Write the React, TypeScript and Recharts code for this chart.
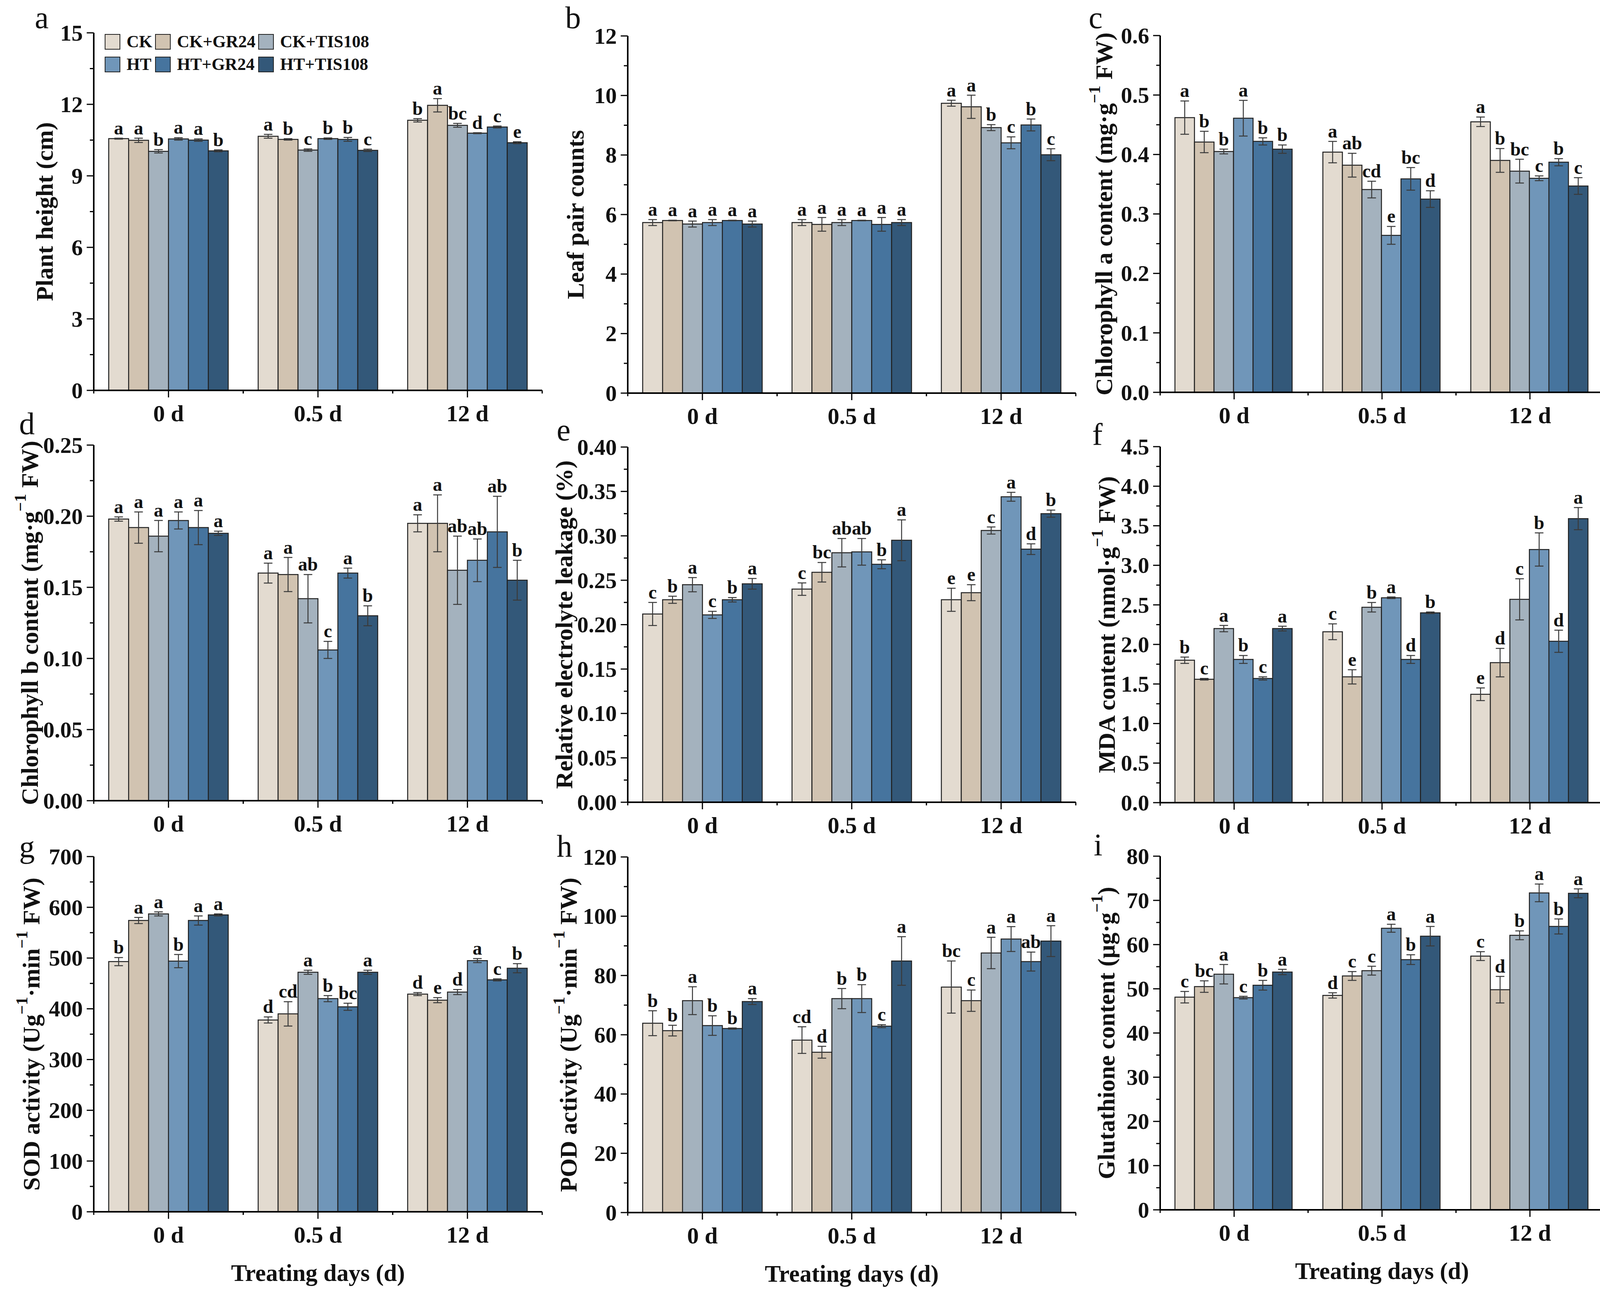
import React from "react";
import { BarChart, Bar, XAxis, YAxis, ErrorBar, LabelList, Legend } from "recharts";

const FONT = '"Liberation Serif", "Times New Roman", serif';

const categories = ["0 d", "0.5 d", "12 d"];
const groups = ["CK", "CK+GR24", "CK+TIS108", "HT", "HT+GR24", "HT+TIS108"];
const groupColors = ["#e3dbd0", "#d1c3b1", "#a4b2be", "#7096b9", "#46749e", "#335879"];

// a — plant height (rows: 0 d, 0.5 d, 12 d; columns follow groups)
const plantHeight = [
  [10.56, 10.49, 10.03, 10.55, 10.5, 10.05],
  [10.66, 10.53, 10.08, 10.56, 10.53, 10.07],
  [11.33, 11.96, 11.12, 10.79, 11.05, 10.39],
];
const plantHeightErr = [
  [0.02, 0.09, 0.07, 0.05, 0.05, 0.04],
  [0.08, 0.03, 0.05, 0.03, 0.08, 0.05],
  [0.07, 0.28, 0.08, 0.02, 0.04, 0.04],
];
const plantHeightSig = [
  ["a", "a", "b", "a", "a", "b"],
  ["a", "b", "c", "b", "b", "c"],
  ["b", "a", "bc", "d", "c", "e"],
];
const plantHeightTicks = [0, 3, 6, 9, 12, 15];

// b — leaf pair counts
const leafPairs = [
  [5.73, 5.8, 5.68, 5.73, 5.8, 5.68],
  [5.73, 5.67, 5.73, 5.8, 5.67, 5.73],
  [9.74, 9.62, 8.92, 8.41, 9.01, 8.01],
];
const leafPairsErr = [
  [0.1, 0.01, 0.1, 0.1, 0.01, 0.1],
  [0.1, 0.23, 0.1, 0.01, 0.23, 0.1],
  [0.1, 0.39, 0.1, 0.2, 0.2, 0.2],
];
const leafPairsSig = [
  ["a", "a", "a", "a", "a", "a"],
  ["a", "a", "a", "a", "a", "a"],
  ["a", "a", "b", "c", "b", "c"],
];
const leafPairsTicks = [0, 2, 4, 6, 8, 10, 12];

// c — chlorophyll a
const chlA = [
  [0.462, 0.421, 0.405, 0.461, 0.422, 0.409],
  [0.404, 0.382, 0.341, 0.264, 0.359, 0.325],
  [0.455, 0.39, 0.372, 0.36, 0.387, 0.347],
];
const chlAErr = [
  [0.028, 0.018, 0.004, 0.03, 0.006, 0.007],
  [0.018, 0.02, 0.014, 0.015, 0.019, 0.014],
  [0.008, 0.02, 0.02, 0.004, 0.006, 0.014],
];
const chlASig = [
  ["a", "b", "b", "a", "b", "b"],
  ["a", "ab", "cd", "e", "bc", "d"],
  ["a", "b", "bc", "c", "b", "c"],
];
const chlATicks = [0, 0.1, 0.2, 0.3, 0.4, 0.5, 0.6];

// d — chlorophyll b
const chlB = [
  [0.198, 0.192, 0.186, 0.197, 0.192, 0.188],
  [0.16, 0.159, 0.142, 0.106, 0.16, 0.13],
  [0.195, 0.195, 0.162, 0.169, 0.189, 0.155],
];
const chlBErr = [
  [0.0015, 0.011, 0.011, 0.006, 0.012, 0.0015],
  [0.007, 0.012, 0.017, 0.006, 0.0035, 0.007],
  [0.006, 0.02, 0.024, 0.015, 0.025, 0.014],
];
const chlBSig = [
  ["a", "a", "a", "a", "a", "a"],
  ["a", "a", "ab", "c", "a", "b"],
  ["a", "a", "ab", "ab", "ab", "b"],
];
const chlBTicks = [0, 0.05, 0.1, 0.15, 0.2, 0.25];

// e — relative electrolyte leakage
const leakage = [
  [0.212, 0.228, 0.245, 0.211, 0.228, 0.246],
  [0.24, 0.259, 0.281, 0.282, 0.268, 0.295],
  [0.228, 0.236, 0.306, 0.344, 0.285, 0.325],
];
const leakageErr = [
  [0.013, 0.004, 0.008, 0.004, 0.0025, 0.006],
  [0.007, 0.011, 0.016, 0.015, 0.005, 0.023],
  [0.013, 0.009, 0.004, 0.005, 0.006, 0.004],
];
const leakageSig = [
  ["c", "b", "a", "c", "b", "a"],
  ["c", "bc", "ab", "ab", "b", "a"],
  ["e", "e", "c", "a", "d", "b"],
];
const leakageTicks = [0, 0.05, 0.1, 0.15, 0.2, 0.25, 0.3, 0.35, 0.4];

// f — MDA
const mda = [
  [1.8, 1.56, 2.2, 1.81, 1.57, 2.2],
  [2.16, 1.59, 2.47, 2.59, 1.81, 2.4],
  [1.37, 1.77, 2.57, 3.2, 2.04, 3.59],
];
const mdaErr = [
  [0.04, 0.01, 0.04, 0.05, 0.02, 0.03],
  [0.1, 0.09, 0.06, 0.01, 0.05, 0.01],
  [0.08, 0.18, 0.26, 0.21, 0.14, 0.14],
];
const mdaSig = [
  ["b", "c", "a", "b", "c", "a"],
  ["c", "e", "b", "a", "d", "b"],
  ["e", "d", "c", "b", "d", "a"],
];
const mdaTicks = [0, 0.5, 1, 1.5, 2, 2.5, 3, 3.5, 4, 4.5];

// g — SOD
const sod = [
  [493, 574, 587, 494, 574, 585],
  [378, 390, 472, 420, 404, 472],
  [429, 417, 433, 495, 457, 480],
];
const sodErr = [
  [8, 6, 4, 13, 9, 2],
  [6, 24, 4, 6, 7, 4],
  [3, 5, 5, 4, 2, 9],
];
const sodSig = [
  ["b", "a", "a", "b", "a", "a"],
  ["d", "cd", "a", "b", "bc", "a"],
  ["d", "e", "d", "a", "c", "b"],
];
const sodTicks = [0, 100, 200, 300, 400, 500, 600, 700];

// h — POD
const pod = [
  [63.9, 61.4, 71.5, 63.1, 62.1, 71.2],
  [58.2, 54.1, 72.2, 72.2, 62.9, 84.9],
  [76.1, 71.5, 87.6, 92.3, 84.7, 91.6],
];
const podErr = [
  [4.2, 1.8, 4.7, 3.3, 0.2, 1.0],
  [4.5, 2.0, 3.4, 4.7, 0.5, 8.2],
  [8.8, 3.6, 5.3, 4.2, 3.2, 5.2],
];
const podSig = [
  ["b", "b", "a", "b", "b", "a"],
  ["cd", "d", "b", "b", "c", "a"],
  ["bc", "c", "a", "a", "ab", "a"],
];
const podTicks = [0, 20, 40, 60, 80, 100, 120];

// i — glutathione
const gsh = [
  [48.1, 50.5, 53.3, 48.0, 50.8, 53.8],
  [48.5, 52.9, 54.1, 63.7, 56.6, 61.9],
  [57.4, 49.8, 62.1, 71.7, 64.1, 71.6],
];
const gshErr = [
  [1.3, 1.3, 2.2, 0.3, 1.1, 0.6],
  [0.6, 1.0, 1.0, 0.9, 1.1, 2.2],
  [1.0, 3.0, 1.0, 2.0, 1.7, 1.0],
];
const gshSig = [
  ["c", "bc", "a", "c", "b", "a"],
  ["d", "c", "c", "a", "b", "a"],
  ["c", "d", "b", "a", "b", "a"],
];
const gshTicks = [0, 10, 20, 30, 40, 50, 60, 70, 80];

const SUP = "\u22121";

const panels = [
  {
    id: "a", vals: plantHeight, errs: plantHeightErr, sigs: plantHeightSig, ticks: plantHeightTicks, dec: 0,
    title: [{ t: "Plant height (cm)" }],
    chart: { left: 0, top: 0, width: 1420, height: 1120 }, plot: { x0: 240, x1: 1388, y0: 84, y1: 999 },
    titleX: 114, letter: { x: 89, y: 72 }, legend: true,
  },
  {
    id: "b", vals: leafPairs, errs: leafPairsErr, sigs: leafPairsSig, ticks: leafPairsTicks, dec: 0,
    title: [{ t: "Leaf pair counts" }],
    chart: { left: 1390, top: 0, width: 1400, height: 1120 }, plot: { x0: 1607, x1: 2754, y0: 92, y1: 1006 },
    titleX: 1473, letter: { x: 1447, y: 72 },
  },
  {
    id: "c", vals: chlA, errs: chlAErr, sigs: chlASig, ticks: chlATicks, dec: 1,
    title: [{ t: "Chlorophyll a content (mg\u00b7g" }, { t: SUP, sup: true }, { t: " FW)" }],
    chart: { left: 2760, top: 0, width: 1374, height: 1120 }, plot: { x0: 2970, x1: 4106, y0: 91, y1: 1004 },
    titleX: 2826, letter: { x: 2787, y: 72 },
  },
  {
    id: "d", vals: chlB, errs: chlBErr, sigs: chlBSig, ticks: chlBTicks, dec: 2,
    title: [{ t: "Chlorophyll b content (mg\u00b7g" }, { t: SUP, sup: true }, { t: " FW)" }],
    chart: { left: 0, top: 1100, width: 1420, height: 1080 }, plot: { x0: 240, x1: 1388, y0: 1139, y1: 2049 },
    titleX: 76, letter: { x: 49, y: 1111 },
  },
  {
    id: "e", vals: leakage, errs: leakageErr, sigs: leakageSig, ticks: leakageTicks, dec: 2,
    title: [{ t: "Relative electrolyte leakage (%)" }],
    chart: { left: 1390, top: 1100, width: 1400, height: 1080 }, plot: { x0: 1607, x1: 2754, y0: 1144, y1: 2053 },
    titleX: 1444, letter: { x: 1425, y: 1127 },
  },
  {
    id: "f", vals: mda, errs: mdaErr, sigs: mdaSig, ticks: mdaTicks, dec: 1,
    title: [{ t: "MDA content (nmol\u00b7g" }, { t: SUP, sup: true }, { t: " FW)" }],
    chart: { left: 2760, top: 1100, width: 1374, height: 1080 }, plot: { x0: 2970, x1: 4106, y0: 1143, y1: 2054 },
    titleX: 2833, letter: { x: 2796, y: 1139 },
  },
  {
    id: "g", vals: sod, errs: sodErr, sigs: sodSig, ticks: sodTicks, dec: 0,
    title: [{ t: "SOD activity (Ug" }, { t: SUP, sup: true }, { t: "\u00b7min" }, { t: SUP, sup: true }, { t: " FW)" }],
    chart: { left: 0, top: 2160, width: 1420, height: 1177 }, plot: { x0: 240, x1: 1388, y0: 2192, y1: 3101 },
    titleX: 80, letter: { x: 49, y: 2194 }, xTitle: true,
  },
  {
    id: "h", vals: pod, errs: podErr, sigs: podSig, ticks: podTicks, dec: 0,
    title: [{ t: "POD activity (Ug" }, { t: SUP, sup: true }, { t: "\u00b7min" }, { t: SUP, sup: true }, { t: " FW)" }],
    chart: { left: 1390, top: 2160, width: 1400, height: 1177 }, plot: { x0: 1607, x1: 2754, y0: 2193, y1: 3103 },
    titleX: 1455, letter: { x: 1425, y: 2192 }, xTitle: true,
  },
  {
    id: "i", vals: gsh, errs: gshErr, sigs: gshSig, ticks: gshTicks, dec: 0,
    title: [{ t: "Glutathione content (\u03bcg\u00b7g" }, { t: SUP, sup: true }, { t: ")" }],
    chart: { left: 2760, top: 2160, width: 1374, height: 1177 }, plot: { x0: 2970, x1: 4106, y0: 2191, y1: 3096 },
    titleX: 2832, letter: { x: 2800, y: 2189 }, xTitle: true,
  },
];

function renderLegend(props: any) {
  const payload = props.payload || [];
  return (
    <div
      style={{
        display: "grid",
        gridTemplateColumns: "129px 264px auto",
        rowGap: 18,
        fontFamily: FONT,
        fontWeight: "bold",
        fontSize: 44,
        color: "#111",
      }}
    >
      {payload.map((entry: any) => (
        <div key={entry.value} style={{ display: "flex", alignItems: "center", height: 40 }}>
          <span
            style={{
              display: "inline-block",
              width: 36,
              height: 36,
              background: entry.color,
              border: "2.5px solid #222",
              marginRight: 16,
            }}
          />
          <span style={{ lineHeight: "40px", whiteSpace: "nowrap" }}>{entry.value}</span>
        </div>
      ))}
    </div>
  );
}

function Panel({ p }: { p: any }) {
  const { left, top, width, height } = p.chart;
  const px0 = p.plot.x0 - left;
  const px1 = p.plot.x1 - left;
  const py0 = p.plot.y0 - top;
  const py1 = p.plot.y1 - top;
  const xH = p.xTitle ? 200 : 100;
  const margin = { top: py0, left: 0, right: width - px1, bottom: height - py1 - xH };
  const band = (px1 - px0) / categories.length;

  const rows = categories.map((cat, ci) => {
    const row: any = { cat };
    groups.forEach((g, gi) => {
      row["v" + gi] = p.vals[ci][gi];
      row["e" + gi] = p.errs[ci][gi];
      row["s" + gi] = p.sigs[ci][gi];
    });
    return row;
  });

  const major: number[] = p.ticks;
  const step = major[1] - major[0];
  const allTicks: number[] = [];
  major.forEach((t, i) => {
    allTicks.push(t);
    if (i < major.length - 1) allTicks.push(+(t + step / 2).toFixed(6));
  });
  const isMajor = (v: number) => Math.abs(v / step - Math.round(v / step)) < 1e-6;

  const yTick = (props: any) => {
    const v = props.payload.value;
    const y = props.y;
    const maj = isMajor(v);
    return (
      <g>
        <line x1={px0 - (maj ? 18 : 10)} x2={px0} y1={y} y2={y} stroke="#000" strokeWidth={3} />
        {maj && (
          <text x={px0 - 28} y={y} dy="0.34em" textAnchor="end" fontFamily={FONT} fontWeight="bold" fontSize={58} fill="#111">
            {v.toFixed(p.dec)}
          </text>
        )}
      </g>
    );
  };

  const xTick = (props: any) => {
    const x = props.x;
    return (
      <g>
        <line x1={x} x2={x} y1={py1} y2={py1 + 18} stroke="#000" strokeWidth={3} />
        <line x1={x - band / 2} x2={x - band / 2} y1={py1} y2={py1 + 8} stroke="#000" strokeWidth={3} />
        <line x1={x + band / 2} x2={x + band / 2} y1={py1} y2={py1 + 8} stroke="#000" strokeWidth={3} />
        <text x={x} y={py1 + 79} textAnchor="middle" fontFamily={FONT} fontWeight="bold" fontSize={60} fill="#111">
          {props.payload.value}
        </text>
      </g>
    );
  };

  const yTitle = () => {
    const cx = p.titleX - left;
    const cy = (py0 + py1) / 2;
    return (
      <text
        transform={`translate(${cx},${cy}) rotate(-90)`}
        textAnchor="middle"
        dominantBaseline="central"
        fontFamily={FONT}
        fontWeight="bold"
        fontSize={62}
        fill="#111"
      >
        {p.title.map((s: any, i: number) => {
          if (s.sup) {
            return (
              <tspan key={i} dy={-24} fontSize={42}>
                {s.t}
              </tspan>
            );
          }
          const prevSup = i > 0 && p.title[i - 1].sup;
          return (
            <tspan key={i} dy={prevSup ? 24 : 0}>
              {s.t}
            </tspan>
          );
        })}
      </text>
    );
  };

  const xTitle = () => (
    <text x={(px0 + px1) / 2} y={py1 + 177} textAnchor="middle" fontFamily={FONT} fontWeight="bold" fontSize={61} fill="#111">
      Treating days (d)
    </text>
  );

  const sigLabel = (gi: number) => (props: any) => {
    const vb = props.viewBox && props.viewBox.height !== undefined ? props.viewBox : props;
    const idx = props.index;
    if (idx === undefined || !rows[idx]) return null;
    const v = rows[idx]["v" + gi];
    const e = rows[idx]["e" + gi];
    const pxPerUnit = vb.height / v;
    const topY = vb.y - e * pxPerUnit;
    return (
      <text
        x={vb.x + vb.width / 2}
        y={topY - 10}
        textAnchor="middle"
        fontFamily={FONT}
        fontWeight="bold"
        fontSize={48}
        fill="#111"
      >
        {props.value}
      </text>
    );
  };

  return (
    <div style={{ position: "absolute", left, top }}>
      <BarChart width={width} height={height} data={rows} margin={margin} barCategoryGap="10%" barGap={0}>
        <XAxis
          dataKey="cat"
          height={xH}
          interval={0}
          tickLine={false}
          axisLine={{ stroke: "#000", strokeWidth: 4 }}
          tick={xTick}
          label={p.xTitle ? xTitle : undefined}
        />
        <YAxis
          type="number"
          width={px0}
          domain={[0, major[major.length - 1]]}
          ticks={allTicks}
          interval={0}
          tickLine={false}
          axisLine={{ stroke: "#000", strokeWidth: 4 }}
          tick={yTick}
          label={yTitle}
        />
        {groups.map((g, gi) => (
          <Bar
            key={g}
            dataKey={"v" + gi}
            name={g}
            fill={groupColors[gi]}
            stroke="#222"
            strokeWidth={2.5}
            isAnimationActive={false}
          >
            <ErrorBar dataKey={"e" + gi} width={11} strokeWidth={2.5} stroke="#3a3a3a" direction="y" />
            <LabelList dataKey={"s" + gi} content={sigLabel(gi)} />
          </Bar>
        ))}
        {p.legend && (
          <Legend
            verticalAlign="middle"
            align="center"
            layout="horizontal"
            content={renderLegend}
            wrapperStyle={{ left: 268, top: 87, width: 900 }}
          />
        )}
      </BarChart>
    </div>
  );
}

export default function App() {
  return (
    <div style={{ position: "absolute", left: 0, top: 0, width: 4134, height: 3337, background: "#fff" }}>
      {panels.map((p) => (
        <Panel key={p.id} p={p} />
      ))}
      <svg
        width={4134}
        height={3337}
        style={{ position: "absolute", left: 0, top: 0, pointerEvents: "none" }}
      >
        {panels.map((p) => (
          <text key={p.id} x={p.letter.x} y={p.letter.y} fontFamily={FONT} fontSize={80} fill="#111">
            {p.id}
          </text>
        ))}
      </svg>
    </div>
  );
}
